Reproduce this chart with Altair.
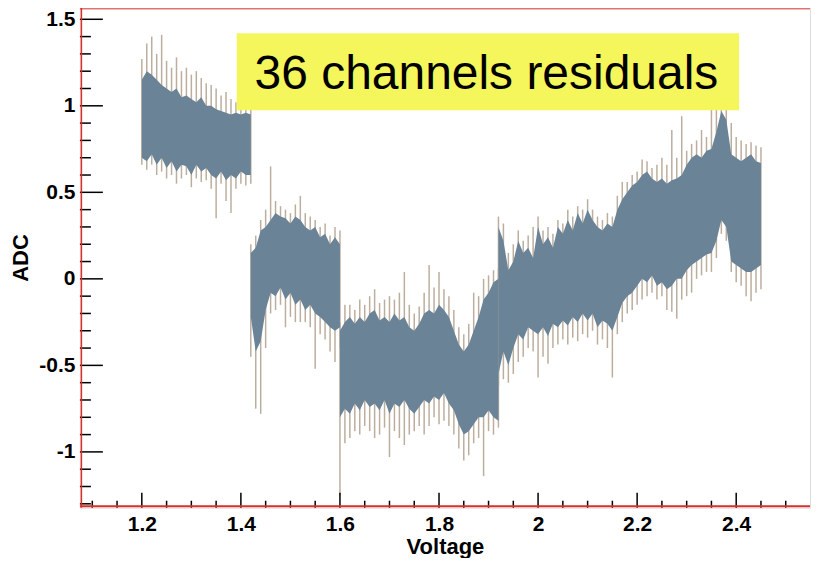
import altair as alt
import pandas as pd

# ---------------- data ----------------
# segment 1 : 1.20 .. 1.42 V
SEG1_X = [1.20, 1.21, 1.22, 1.23, 1.24, 1.25, 1.26, 1.27, 1.28, 1.29, 1.30, 1.31,
          1.32, 1.33, 1.34, 1.35, 1.36, 1.37, 1.38, 1.39, 1.40, 1.41, 1.42]
SEG1_LO = [0.70, 0.68, 0.72, 0.66, 0.70, 0.64, 0.68, 0.62, 0.66, 0.65, 0.60, 0.66,
           0.62, 0.64, 0.60, 0.58, 0.62, 0.57, 0.60, 0.58, 0.62, 0.60, 0.60]
SEG1_HI = [1.15, 1.20, 1.18, 1.15, 1.12, 1.10, 1.08, 1.10, 1.05, 1.06, 1.04, 1.02,
           1.05, 1.00, 1.00, 0.98, 0.97, 0.96, 0.95, 0.96, 0.95, 0.96, 0.95]
SEG1_SLO = [0.66, 0.63, 0.66, 0.60, 0.62, 0.58, 0.60, 0.55, 0.58, 0.60, 0.53, 0.58,
            0.56, 0.57, 0.52, 0.35, 0.55, 0.45, 0.38, 0.52, 0.55, 0.54, 0.55]
SEG1_SHI = [1.27, 1.36, 1.40, 1.30, 1.41, 1.26, 1.22, 1.28, 1.20, 1.22, 1.18, 1.20,
            1.16, 1.13, 1.12, 1.10, 1.06, 1.08, 1.04, 1.02, 1.00, 1.00, 0.98]

# segment 2 : 1.42 .. 1.60 V
SEG2_X = [1.42, 1.43, 1.44, 1.45, 1.46, 1.47, 1.48, 1.49, 1.50, 1.51, 1.52, 1.53,
          1.54, 1.55, 1.56, 1.57, 1.58, 1.59, 1.60]
SEG2_LO = [-0.22, -0.42, -0.36, -0.18, -0.08, -0.10, -0.05, -0.12, -0.08, -0.15,
           -0.12, -0.18, -0.15, -0.20, -0.22, -0.25, -0.28, -0.30, -0.28]
SEG2_HI = [0.15, 0.18, 0.28, 0.30, 0.34, 0.38, 0.36, 0.35, 0.32, 0.36, 0.34, 0.30,
           0.28, 0.30, 0.24, 0.26, 0.20, 0.24, 0.20]
SEG2_SLO = [-0.45, -0.75, -0.78, -0.40, -0.20, -0.18, -0.15, -0.28, -0.22, -0.25,
            -0.25, -0.25, -0.28, -0.52, -0.32, -0.35, -0.42, -0.48, -0.40]
SEG2_SHI = [0.20, 0.25, 0.34, 0.40, 0.65, 0.45, 0.42, 0.40, 0.38, 0.43, 0.48, 0.38,
            0.36, 0.34, 0.30, 0.32, 0.25, 0.30, 0.28]

# segment 3 : 1.60 .. 1.92 V
SEG3_X = [1.60, 1.61, 1.62, 1.63, 1.64, 1.65, 1.66, 1.67, 1.68, 1.69, 1.70, 1.71,
          1.72, 1.73, 1.74, 1.75, 1.76, 1.77, 1.78, 1.79, 1.80, 1.81, 1.82, 1.83,
          1.84, 1.85, 1.86, 1.87, 1.88, 1.89, 1.90, 1.91, 1.92]
SEG3_LO = [-0.80, -0.75, -0.78, -0.72, -0.76, -0.70, -0.74, -0.72, -0.76, -0.70,
           -0.78, -0.72, -0.74, -0.70, -0.75, -0.78, -0.74, -0.70, -0.72, -0.68,
           -0.70, -0.66, -0.72, -0.76, -0.84, -0.90, -0.88, -0.84, -0.80, -0.80,
           -0.76, -0.80, -0.82]
SEG3_HI = [-0.30, -0.25, -0.22, -0.26, -0.22, -0.25, -0.20, -0.18, -0.24, -0.22,
           -0.25, -0.20, -0.24, -0.22, -0.28, -0.30, -0.26, -0.20, -0.18, -0.20,
           -0.15, -0.18, -0.22, -0.30, -0.38, -0.42, -0.38, -0.30, -0.22, -0.12,
           -0.08, -0.02, 0.00]
SEG3_SLO = [-1.25, -0.95, -0.92, -0.88, -0.90, -0.85, -0.88, -0.92, -0.90, -0.86,
            -1.03, -0.88, -0.92, -0.96, -0.90, -0.88, -0.85, -0.90, -0.85, -0.80,
            -0.84, -0.82, -0.85, -0.90, -0.98, -1.05, -1.02, -0.95, -0.92, -1.14,
            -0.88, -0.90, -0.86]
SEG3_SHI = [-0.25, -0.15, -0.15, -0.18, -0.12, -0.15, -0.10, -0.06, -0.14, -0.12,
            -0.10, -0.12, -0.08, 0.04, -0.15, -0.20, -0.16, -0.08, 0.08, -0.05,
            0.04, -0.06, -0.10, -0.18, -0.28, -0.32, -0.26, -0.08, -0.10, 0.00,
            0.02, 0.05, 0.06]

# segment 4 : 1.92 .. 2.45 V
SEG4_X = [1.92, 1.93, 1.94, 1.95, 1.96, 1.97, 1.98, 1.99, 2.00, 2.01, 2.02, 2.03,
          2.04, 2.05, 2.06, 2.07, 2.08, 2.09, 2.10, 2.11, 2.12, 2.13, 2.14, 2.15,
          2.16, 2.17, 2.18, 2.19, 2.20, 2.21, 2.22, 2.23, 2.24, 2.25, 2.26, 2.27,
          2.28, 2.29, 2.30, 2.31, 2.32, 2.33, 2.34, 2.35, 2.36, 2.37, 2.38, 2.39,
          2.40, 2.41, 2.42, 2.43, 2.44, 2.45]
SEG4_LO = [-0.55, -0.42, -0.50, -0.40, -0.32, -0.35, -0.28, -0.30, -0.32, -0.28,
           -0.33, -0.26, -0.28, -0.24, -0.27, -0.22, -0.25, -0.20, -0.24, -0.20,
           -0.28, -0.24, -0.26, -0.30, -0.22, -0.14, -0.10, -0.08, -0.04, 0.00,
           -0.02, 0.02, -0.04, -0.02, -0.06, -0.04, 0.00, 0.00, 0.05, 0.08,
           0.10, 0.12, 0.14, 0.15, 0.22, 0.34, 0.30, 0.10, 0.08, 0.06,
           0.04, 0.04, 0.06, 0.08]
SEG4_HI = [0.30, 0.22, 0.05, 0.10, 0.22, 0.15, 0.18, 0.12, 0.30, 0.20,
           0.24, 0.18, 0.30, 0.26, 0.34, 0.28, 0.38, 0.32, 0.40, 0.34,
           0.30, 0.28, 0.32, 0.30, 0.40, 0.46, 0.50, 0.54, 0.56, 0.60,
           0.62, 0.58, 0.56, 0.58, 0.55, 0.57, 0.58, 0.60, 0.66, 0.70,
           0.72, 0.70, 0.74, 0.75, 0.85, 0.97, 0.92, 0.72, 0.70, 0.68,
           0.70, 0.72, 0.68, 0.67]
SEG4_SLO = [-0.62, -0.58, -0.60, -0.55, -0.48, -0.45, -0.40, -0.42, -0.57, -0.45,
            -0.49, -0.40, -0.38, -0.35, -0.38, -0.34, -0.36, -0.32, -0.34, -0.30,
            -0.38, -0.35, -0.40, -0.57, -0.32, -0.25, -0.20, -0.18, -0.15, -0.12,
            -0.10, -0.08, -0.12, -0.10, -0.18, -0.19, -0.23, -0.12, -0.10, -0.08,
            0.00, 0.02, 0.04, 0.04, 0.12, 0.26, 0.22, 0.04, -0.02, -0.04,
            -0.10, -0.13, -0.08, -0.06]
SEG4_SHI = [0.36, 0.32, 0.15, 0.20, 0.28, 0.22, 0.25, 0.30, 0.36, 0.28,
            0.30, 0.26, 0.34, 0.32, 0.40, 0.36, 0.42, 0.40, 0.46, 0.40,
            0.36, 0.34, 0.38, 0.36, 0.48, 0.56, 0.56, 0.60, 0.62, 0.69,
            0.68, 0.64, 0.66, 0.70, 0.66, 0.86, 0.70, 0.94, 0.74, 0.78,
            0.80, 0.86, 0.82, 0.98, 1.00, 1.08, 1.05, 0.90, 0.82, 0.80,
            0.78, 0.79, 0.77, 0.76]

# axis ticks / labels
X_MAJOR = [1.2, 1.4, 1.6, 1.8, 2.0, 2.2, 2.4]
X_MINOR = [1.1, 1.15, 1.25, 1.3, 1.35, 1.45, 1.5, 1.55, 1.65, 1.7, 1.75, 1.85,
           1.9, 1.95, 2.05, 2.1, 2.15, 2.25, 2.3, 2.35, 2.45, 2.5]
Y_MAJOR = [-1.0, -0.5, 0.0, 0.5, 1.0, 1.5]
Y_MINOR = [-1.3, -1.2, -1.1, -0.9, -0.8, -0.7, -0.6, -0.4, -0.3, -0.2, -0.1,
           0.1, 0.2, 0.3, 0.4, 0.6, 0.7, 0.8, 0.9, 1.1, 1.2, 1.3, 1.4]
X_TITLE = "Voltage"
Y_TITLE = "ADC"
BOX_TEXT = "36 channels residuals"

# ---------------- build tables ----------------
SEGS = [
    (SEG1_X, SEG1_LO, SEG1_HI, SEG1_SLO, SEG1_SHI),
    (SEG2_X, SEG2_LO, SEG2_HI, SEG2_SLO, SEG2_SHI),
    (SEG3_X, SEG3_LO, SEG3_HI, SEG3_SLO, SEG3_SHI),
    (SEG4_X, SEG4_LO, SEG4_HI, SEG4_SLO, SEG4_SHI),
]
seg_frames = []
for xs, lo, hi, slo, shi in SEGS:
    seg_frames.append(pd.DataFrame({"v": xs, "lo": lo, "hi": hi, "slo": slo, "shi": shi}))
df_all = pd.concat(seg_frames, ignore_index=True)

W, H = 731, 501
FONT = "Liberation Sans"
xscale = alt.Scale(domain=[1.075, 2.549], nice=False, zero=False)
yscale = alt.Scale(domain=[-1.3226, 1.569], nice=False, zero=False)

x_axis = alt.Axis(values=X_MAJOR, labelExpr="'' + datum.value", ticks=False,
                  domain=False, grid=False, labelFont=FONT, labelFontWeight="bold",
                  labelFontSize=21, labelColor="black", labelPadding=6,
                  title=X_TITLE, titleFont=FONT, titleFontWeight="bold",
                  titleFontSize=22, titleColor="black", titleBaseline="alphabetic",
                  titleY=46, labelFlush=False)
y_axis = alt.Axis(values=Y_MAJOR, labelExpr="'' + datum.value", ticks=False,
                  domain=False, grid=False, labelFont=FONT, labelFontWeight="bold",
                  labelFontSize=21, labelColor="black", labelPadding=5,
                  title=Y_TITLE, titleFont=FONT, titleFontWeight="bold",
                  titleFontSize=22, titleColor="black", titleX=-47, titleY=H / 2,
                  minExtent=72, maxExtent=72, labelFlush=False)


def X(field):
    return alt.X(field, scale=xscale, axis=x_axis, title=X_TITLE)


def Y(field):
    return alt.Y(field, scale=yscale, axis=y_axis, title=Y_TITLE)


spikes = alt.Chart(df_all).mark_rule(color="#bcae9f", strokeWidth=1.5).encode(
    x=X("v:Q"), y=Y("slo:Q"), y2="shi:Q")

cores = [
    alt.Chart(f).mark_area(color="#6a8397", opacity=1, interpolate="linear").encode(
        x=X("v:Q"), y=Y("lo:Q"), y2="hi:Q")
    for f in seg_frames
]

xmaj = alt.Chart(pd.DataFrame({"v": X_MAJOR})).mark_rule(color="black", strokeWidth=1.5).encode(
    x=X("v:Q"), y=alt.value(H), y2=alt.value(H - 15))
xmin = alt.Chart(pd.DataFrame({"v": X_MINOR})).mark_rule(color="black", strokeWidth=1.5).encode(
    x=X("v:Q"), y=alt.value(H), y2=alt.value(H - 7))
ymaj = alt.Chart(pd.DataFrame({"lo": Y_MAJOR})).mark_rule(color="black", strokeWidth=1.5).encode(
    y=Y("lo:Q"), x=alt.value(0), x2=alt.value(23))
ymin = alt.Chart(pd.DataFrame({"lo": Y_MINOR})).mark_rule(color="black", strokeWidth=1.5).encode(
    y=Y("lo:Q"), x=alt.value(0), x2=alt.value(11))

one = pd.DataFrame({"label": [BOX_TEXT]})
box = alt.Chart(one).mark_rect(color="#f4f65c").encode(
    x=alt.value(157), x2=alt.value(660), y=alt.value(26), y2=alt.value(103))
box_text = alt.Chart(one).mark_text(font=FONT, fontSize=48, color="black",
                                    align="center", baseline="alphabetic").encode(
    x=alt.value(407), y=alt.value(82), text="label:N")

RED = "#d9302c"
red_left = alt.Chart(one).mark_rule(color=RED, strokeWidth=1.5).encode(
    x=alt.value(1.5), y=alt.value(0), y2=alt.value(H))
red_bottom = alt.Chart(one).mark_rule(color=RED, strokeWidth=2).encode(
    y=alt.value(H - 1.5), x=alt.value(0), x2=alt.value(W))
red_top = alt.Chart(one).mark_rule(color=RED, strokeWidth=1).encode(
    y=alt.value(1.5), x=alt.value(0), x2=alt.value(W))

chart = alt.layer(
    spikes, *cores, box, box_text, xmin, xmaj, ymin, ymaj, red_left, red_bottom, red_top
).properties(
    width=W, height=H,
    padding={"left": 0, "top": -2, "right": 0, "bottom": 0},
).configure_view(
    stroke="black", strokeWidth=1.2
).configure(background="white")

chart.save("out.html", embed_options={"renderer": "svg", "actions": False})
